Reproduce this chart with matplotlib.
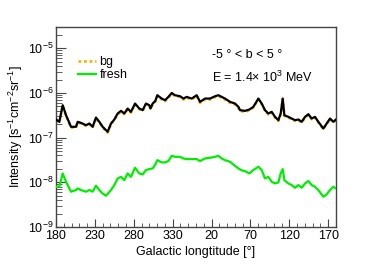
import numpy as np
import matplotlib
matplotlib.use("Agg")
import matplotlib.pyplot as plt
from matplotlib.ticker import FixedLocator, LogLocator, NullFormatter, FuncFormatter

plt.rcParams['font.family'] = ['Liberation Sans', 'DejaVu Sans']
plt.rcParams['mathtext.fontset'] = 'custom'
plt.rcParams['mathtext.rm'] = 'Liberation Sans'
plt.rcParams['mathtext.it'] = 'Liberation Sans:italic'

# Galactic longitude, unwrapped (180 -> 540 == 180 -> 360/0 -> 180)
lon_total = [180, 184.3, 188.6, 192.9, 199.3, 205.7, 207.9, 212.1, 218.6, 222.9,
             227.1, 231.4, 235.7, 240, 244.3, 246.4, 250.7, 255, 259.3, 263.6,
             267.9, 272.1, 276.4, 281.6, 287.1, 291.4, 295.7, 300, 301.5, 304.3,
             307.7, 310.3, 315.9, 320.2, 324.5, 328.8, 333.0, 339.5, 343.8, 348.0,
             354.5, 360.9, 365.2, 371.6, 378.0, 384.5, 388.8, 393.0, 397.3, 403.8,
             410.2, 414.5, 416.6, 423.0, 428.6, 433.7, 440.2, 444.5, 448.7, 453.0,
             457.3, 461.6, 465.9, 468.9, 471.5, 473.6, 478.7, 483.0, 487.3, 491.6,
             495.9, 500.2, 504.5, 508.7, 513.0, 517.3, 523.7, 528.0, 532.3, 536.6, 540]
total = [2.55e-7, 2.26e-7, 5.32e-7, 3.18e-7, 1.75e-7, 1.75e-7, 2.26e-7, 2.14e-7, 1.90e-7, 2.07e-7,
         1.75e-7, 2.82e-7, 2.26e-7, 1.75e-7, 1.47e-7, 1.35e-7, 2.07e-7, 2.55e-7, 3.47e-7, 3.98e-7,
         3.47e-7, 4.49e-7, 3.78e-7, 5.80e-7, 4.49e-7, 4.12e-7, 5.80e-7, 5.32e-7, 4.49e-7, 5.80e-7,
         6.65e-7, 8.91e-7, 7.50e-7, 6.88e-7, 8.18e-7, 1.00e-6, 8.91e-7, 8.45e-7, 7.50e-7, 8.18e-7,
         7.50e-7, 8.91e-7, 6.32e-7, 7.50e-7, 7.50e-7, 8.45e-7, 8.91e-7, 8.18e-7, 7.50e-7, 6.32e-7,
         5.80e-7, 4.89e-7, 4.12e-7, 3.98e-7, 4.26e-7, 4.89e-7, 7.50e-7, 5.80e-7, 4.12e-7, 3.47e-7,
         3.78e-7, 2.92e-7, 2.46e-7, 3.47e-7, 7.50e-7, 3.18e-7, 2.92e-7, 2.68e-7, 2.46e-7, 2.55e-7,
         2.26e-7, 2.92e-7, 3.35e-7, 2.68e-7, 2.92e-7, 2.26e-7, 1.60e-7, 2.07e-7, 2.68e-7, 2.26e-7, 2.55e-7]

lon_fresh = [180, 184.3, 188.6, 192.9, 199.3, 205.7, 207.9, 212.1, 218.6, 222.9,
             227.1, 231.4, 235.7, 240, 244.3, 250.7, 255, 259.3, 263.6, 267.9,
             272.1, 276.4, 281.6, 287.1, 291.4, 295.7, 300, 304.3, 307.7, 310.3,
             315.9, 320.2, 324.5, 328.8, 333.0, 339.5, 343.8, 348.0, 354.5, 360.9,
             365.2, 371.6, 378.0, 384.5, 388.8, 393.0, 397.3, 403.8, 410.2, 414.5,
             418.0, 423.0, 428.6, 433.7, 440.2, 444.5, 448.7, 453.0, 457.3, 461.6,
             465.9, 468.9, 471.5, 473.6, 478.7, 483.0, 487.3, 491.6, 495.9, 500.2,
             504.5, 508.7, 513.0, 517.3, 523.7, 528.0, 532.3, 536.6, 540]
fresh = [7.96e-9, 7.96e-9, 1.58e-8, 1.03e-8, 6.17e-9, 6.71e-9, 7.31e-9, 6.71e-9, 6.17e-9, 6.71e-9,
         6.17e-9, 8.39e-9, 6.71e-9, 5.65e-9, 5.01e-9, 6.71e-9, 8.69e-9, 1.22e-8, 1.33e-8, 1.12e-8,
         1.58e-8, 1.33e-8, 2.12e-8, 1.58e-8, 1.50e-8, 1.88e-8, 1.98e-8, 2.05e-8, 2.51e-8, 3.14e-8,
         2.79e-8, 2.79e-8, 2.99e-8, 3.93e-8, 3.73e-8, 3.73e-8, 3.42e-8, 3.31e-8, 3.31e-8, 3.31e-8,
         2.99e-8, 3.42e-8, 3.54e-8, 3.73e-8, 3.93e-8, 3.42e-8, 3.14e-8, 2.88e-8, 2.34e-8, 2.05e-8,
         1.88e-8, 1.78e-8, 1.58e-8, 1.88e-8, 2.23e-8, 1.88e-8, 1.22e-8, 1.33e-8, 1.03e-8, 9.46e-9,
         9.95e-9, 1.58e-8, 1.98e-8, 1.12e-8, 9.46e-9, 8.69e-9, 7.56e-9, 8.69e-9, 7.56e-9, 9.46e-9,
         1.07e-8, 8.69e-9, 7.96e-9, 6.71e-9, 4.76e-9, 5.37e-9, 6.71e-9, 7.96e-9, 7.31e-9]

tick_pos = [180, 230, 280, 330, 380, 430, 480, 530]
tick_labels = ['180', '230', '280', '330', '20', '70', '120', '170']

# background = total minus the fresh component at the same longitudes
bg = np.array(total) - np.interp(lon_total, lon_fresh, fresh)

fig = plt.figure(figsize=(3.74, 2.68), dpi=100)
ax = fig.add_axes([56/374, 1 - 227/268, 280/374, 200/268])

ax.plot(lon_total, bg, color='#f5b800', lw=2.0, ls=(0, (1, 1)), label='bg', zorder=2)
ax.plot(lon_total, total, color='black', lw=1.6, zorder=3)
ax.plot(lon_fresh, fresh, color='#00ee00', lw=1.6, label='fresh', zorder=3)

ax.set_yscale('log')
ax.set_xlim(180, 540)
ax.set_ylim(1e-9, 3e-5)

ax.xaxis.set_major_locator(FixedLocator(tick_pos))
ax.set_xticklabels(tick_labels)
ax.xaxis.set_minor_locator(FixedLocator(np.arange(180, 541, 10)))
ax.yaxis.set_major_locator(LogLocator(base=10, numticks=20))
ax.yaxis.set_minor_locator(LogLocator(base=10, subs=np.arange(2, 10), numticks=20))
ax.yaxis.set_minor_formatter(NullFormatter())
ax.yaxis.set_major_formatter(FuncFormatter(lambda v, p: r'$10^{%d}$' % int(round(np.log10(v)))))

ax.tick_params(axis='both', which='both', direction='in', top=False, right=False,
               labelsize=9, color='#444444', pad=2)
ax.tick_params(axis='x', which='major', length=6)
ax.tick_params(axis='x', which='minor', length=3)
ax.tick_params(axis='y', which='major', length=7)
ax.tick_params(axis='y', which='minor', length=4)
for s in ax.spines.values():
    s.set_color('#444444')
    s.set_linewidth(1.0)

ax.set_xlabel('Galactic longtitude [°]', fontsize=9, labelpad=3)
ax.set_ylabel(r'Intensity [s$^{-1}$cm$^{-2}$sr$^{-1}$]', fontsize=9, labelpad=2)

ax.text(212/374, 1 - 55/268, '-5 ° < b < 5 °', transform=fig.transFigure,
        fontsize=9, va='center', ha='left')
ax.text(212/374, 1 - 77/268, r'E = 1.4$\times$ 10$^{3}$ MeV', transform=fig.transFigure,
        fontsize=9, va='center', ha='left')

leg = ax.legend(loc='upper left', bbox_to_anchor=(72/374, 1 - 50/268),
                bbox_transform=fig.transFigure, frameon=False, fontsize=9,
                handlelength=1.4, handletextpad=0.3, labelspacing=0.1, borderpad=0)

fig.savefig('out.png', dpi=100)
